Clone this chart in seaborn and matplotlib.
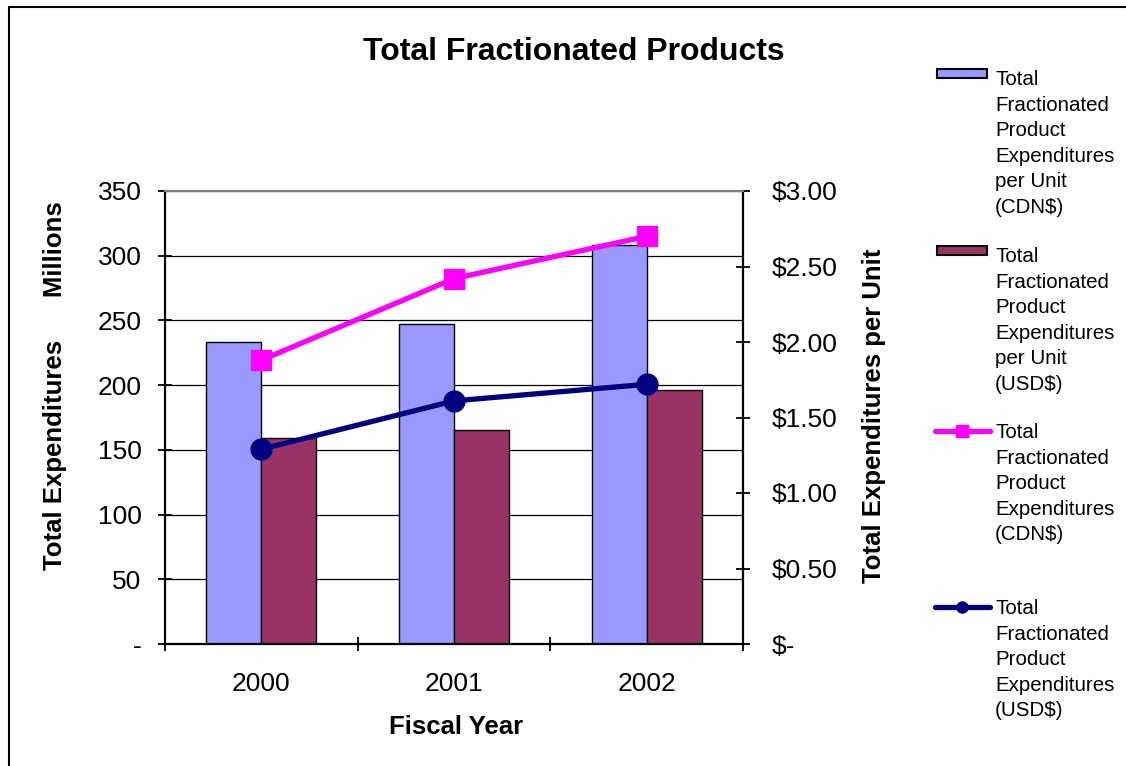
import numpy as np
import pandas as pd
import seaborn as sns
import matplotlib
matplotlib.use("Agg")
import matplotlib.pyplot as plt
from matplotlib.lines import Line2D
from matplotlib.patches import Rectangle

# ---------------- data ----------------
years = ["2000", "2001", "2002"]
bar_series = ["Total\nFractionated\nProduct\nExpenditures\nper Unit\n(CDN$)",
              "Total\nFractionated\nProduct\nExpenditures\nper Unit\n(USD$)"]
line_series = ["Total\nFractionated\nProduct\nExpenditures\n(CDN$)",
               "Total\nFractionated\nProduct\nExpenditures\n(USD$)"]
cdn_bars = [233, 247, 308]
usd_bars = [159, 165, 196]
cdn_line = [1.88, 2.42, 2.70]
usd_line = [1.29, 1.61, 1.72]
left_ticks = [0, 50, 100, 150, 200, 250, 300, 350]
left_labels = ["-", "50", "100", "150", "200", "250", "300", "350"]
right_ticks = [0, 0.5, 1.0, 1.5, 2.0, 2.5, 3.0]
right_labels = ["$-", "$0.50", "$1.00", "$1.50", "$2.00", "$2.50", "$3.00"]
title = "Total Fractionated Products"
xlabel = "Fiscal Year"
ylabel_left = "Total Expenditures      Millions"
ylabel_right = "Total Expenditures per Unit"

BLUE = "#9999FF"
MAROON = "#993366"
PINK = "#FF00FF"
NAVY = "#000080"

sns.set_style("white")
plt.rcParams["font.family"] = ["Liberation Sans", "DejaVu Sans"]
plt.rcParams["text.color"] = "black"
plt.rcParams["axes.labelcolor"] = "black"
plt.rcParams["xtick.color"] = "black"
plt.rcParams["ytick.color"] = "black"

W, H = 1126, 766
fig = plt.figure(figsize=(W / 100, H / 100), dpi=100)
ax = fig.add_axes([165 / W, 1 - 644 / H, (743 - 165) / W, (644 - 191) / H])
ax2 = ax.twinx()

bars_df = pd.DataFrame({
    "Year": years * 2,
    "Value": cdn_bars + usd_bars,
    "Series": [bar_series[0]] * 3 + [bar_series[1]] * 3,
})
lines_df = pd.DataFrame({
    "Year": years * 2,
    "Value": cdn_line + usd_line,
    "Series": [line_series[0]] * 3 + [line_series[1]] * 3,
})

sns.barplot(data=bars_df, x="Year", y="Value", hue="Series",
            palette=[BLUE, MAROON], saturation=1, width=0.57, gap=0,
            edgecolor="black", linewidth=1.0, legend=False, ax=ax, zorder=2)

sns.pointplot(data=lines_df, x="Year", y="Value", hue="Series",
              palette=[PINK, NAVY], markers=["s", "o"], linestyles=["-", "-"],
              dodge=False, errorbar=None, legend=False, ax=ax2)
for ln, c, ms in zip(ax2.lines, [PINK, NAVY], [14, 15]):
    ln.set_linewidth(3.8)
    ln.set_markersize(ms)
    ln.set_markeredgecolor(c)
    ln.set_markerfacecolor(c)
    ln.set_markeredgewidth(1)

# axes formatting
ax.set_ylim(0, 350)
ax2.set_ylim(0, 3.0)
ax.set_xlim(-0.5, 2.5)
ax.set_xlabel("")
ax.set_ylabel("")
ax2.set_ylabel("")
ax2.set_xlabel("")

ax.set_axisbelow(True)
ax.yaxis.grid(True, color="black", linewidth=0.9)
ax.xaxis.grid(False)
ax2.grid(False)

ax.set_yticks(left_ticks)
ax.set_yticklabels(left_labels)
ax2.set_yticks(right_ticks)
ax2.set_yticklabels(right_labels)
ax.set_xticks(range(len(years)))
ax.set_xticklabels(years)
ax.set_xticks([-0.5, 0.5, 1.5, 2.5], minor=True)

ax.tick_params(axis="y", which="major", direction="inout", length=10, width=1.3,
               pad=12, labelsize=19, left=True, colors="black")
ax.tick_params(axis="x", which="major", length=0, pad=20, labelsize=19,
               colors="black")
ax.tick_params(axis="x", which="minor", direction="inout", length=10, width=1.3,
               bottom=True, colors="black")
ax2.tick_params(axis="y", direction="inout", length=10, width=1.3, pad=16,
                labelsize=19, right=True, colors="black")

for s in ["left", "bottom"]:
    ax.spines[s].set_color("black")
    ax.spines[s].set_linewidth(1.6)
ax.spines["right"].set_visible(False)
ax.spines["top"].set_visible(False)
for s in ["left", "bottom"]:
    ax2.spines[s].set_visible(False)
ax2.spines["right"].set_color("black")
ax2.spines["right"].set_linewidth(1.6)
ax2.spines["top"].set_color("#808080")
ax2.spines["top"].set_linewidth(1.5)
ax2.spines["top"].set_visible(True)

# texts
fig.text(574 / W, 1 - 52 / H, title, ha="center", va="center",
         fontsize=23, fontweight="bold", color="black")
fig.text(456 / W, 1 - 727 / H, xlabel, ha="center", va="center",
         fontsize=18.5, fontweight="bold", color="black")
fig.text(55 / W, 1 - 386 / H, ylabel_left, ha="center", va="center",
         rotation=90, fontsize=18.5, fontweight="bold", color="black")
fig.text(874 / W, 1 - 416 / H, ylabel_right, ha="center", va="center",
         rotation=90, fontsize=18.5, fontweight="bold", color="black")

# legend (manual, Excel-like)
entry_tops = [70, 247, 423, 599]
labels = bar_series + line_series
for i, (lab, top) in enumerate(zip(labels, entry_tops)):
    fig.text(995 / W, 1 - top / H, lab, ha="left", va="top",
             fontsize=14.8, linespacing=1.44, color="black")
    cy = top + 7
    if i < 2:
        col = [BLUE, MAROON][i]
        fig.patches.append(Rectangle((937 / W, 1 - (cy + 1) / H), 50 / W, 9 / H,
                                     facecolor=col, edgecolor="black",
                                     linewidth=1.5, transform=fig.transFigure))
    else:
        col = [PINK, NAVY][i - 2]
        mk = ["s", "o"][i - 2]
        fig.lines.append(Line2D([935 / W, 990 / W], [1 - (cy + 1) / H] * 2,
                                color=col, linewidth=3.8,
                                transform=fig.transFigure))
        fig.lines.append(Line2D([962 / W], [1 - (cy + 1) / H], color=col,
                                marker=mk, markersize=8, markeredgecolor=col,
                                transform=fig.transFigure))

# outer border
fig.lines.append(Line2D([9 / W, 9 / W, 1], [0, 1 - 7 / H, 1 - 7 / H],
                        color="black", linewidth=1.5, transform=fig.transFigure))

fig.savefig("out.png", dpi=100)
